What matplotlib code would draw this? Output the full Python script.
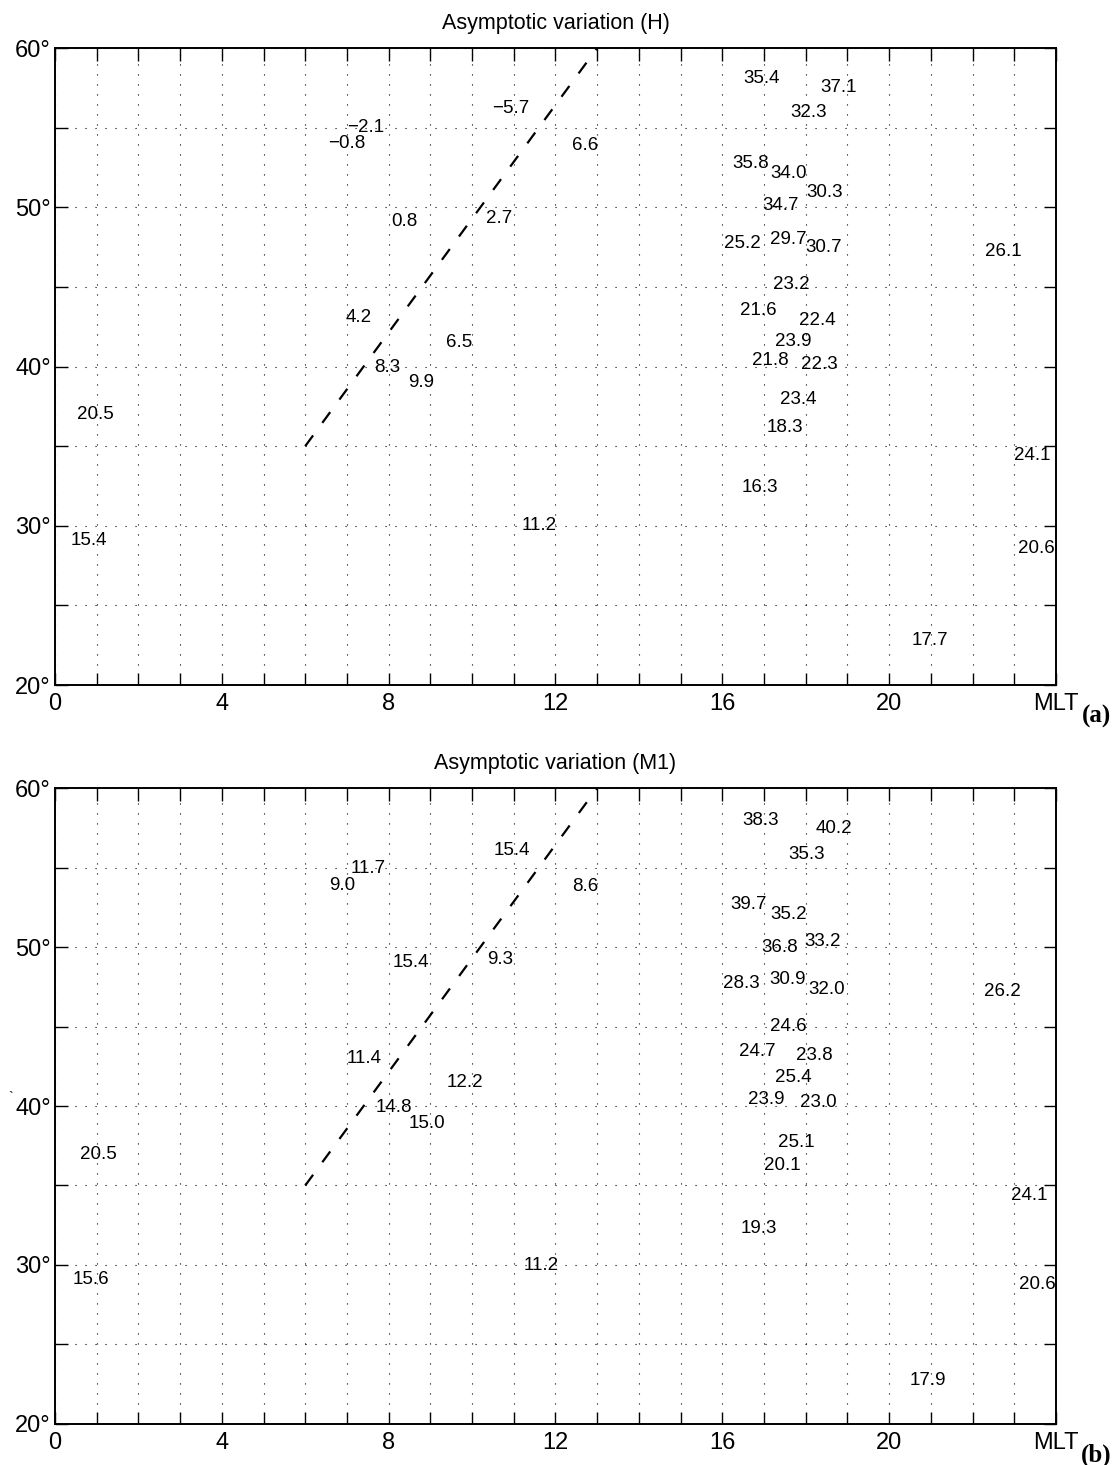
import numpy as np
import matplotlib
matplotlib.use("Agg")
import matplotlib.pyplot as plt

plt.rcParams['font.family'] = ['Liberation Sans', 'DejaVu Sans']

# panel (a): asymptotic variation H, positions in MLT (h) / latitude (deg)
mlt_a = [7.46, 6.99, 10.93, 12.72, 8.38, 10.65, 7.27, 9.70, 7.97, 8.77,
         0.97, 0.81, 11.61,
         16.93, 18.78, 18.06, 16.67, 17.60, 18.44, 17.39, 16.48, 17.58, 18.43,
         22.73, 17.65, 16.86, 18.27, 17.70, 17.14, 18.33, 17.82, 17.50, 23.42,
         16.91, 23.54, 20.98]
lat_a = [55.0, 54.0, 56.2, 53.9, 49.1, 49.3, 43.1, 41.5, 39.95, 39.0,
         37.0, 29.1, 30.0,
         58.1, 57.5, 55.95, 52.75, 52.15, 50.9, 50.1, 47.7, 48.0, 47.5,
         47.25, 45.15, 43.5, 42.9, 41.55, 40.4, 40.15, 37.95, 36.2, 34.4,
         32.4, 28.6, 22.8]
val_a = [-2.1, -0.8, -5.7, 6.6, 0.8, 2.7, 4.2, 6.5, 8.3, 9.9,
         20.5, 15.4, 11.2,
         35.4, 37.1, 32.3, 35.8, 34.0, 30.3, 34.7, 25.2, 29.7, 30.7,
         26.1, 23.2, 21.6, 22.4, 23.9, 21.8, 22.3, 23.4, 18.3, 24.1,
         16.3, 20.6, 17.7]

# panel (b): asymptotic variation M1
mlt_b = [7.50, 6.88, 10.95, 12.72, 8.53, 10.67, 7.41, 9.84, 8.13, 8.93,
         1.04, 0.87, 11.66,
         16.91, 18.67, 18.03, 16.64, 17.59, 18.41, 17.37, 16.45, 17.56, 18.51,
         22.71, 17.58, 16.83, 18.21, 17.71, 17.05, 18.30, 17.77, 17.43, 23.36,
         16.87, 23.55, 20.93]
lat_b = [54.95, 53.85, 56.05, 53.8, 49.05, 49.2, 43.0, 41.5, 39.9, 38.9,
         36.95, 29.1, 29.95,
         57.95, 57.45, 55.85, 52.7, 52.05, 50.35, 50.0, 47.7, 47.95, 47.3,
         47.2, 45.0, 43.45, 43.2, 41.8, 40.4, 40.2, 37.7, 36.25, 34.4,
         32.3, 28.75, 22.75]
val_b = [11.7, 9.0, 15.4, 8.6, 15.4, 9.3, 11.4, 12.2, 14.8, 15.0,
         20.5, 15.6, 11.2,
         38.3, 40.2, 35.3, 39.7, 35.2, 33.2, 36.8, 28.3, 30.9, 32.0,
         26.2, 24.6, 24.7, 23.8, 25.4, 23.9, 23.0, 25.1, 20.1, 24.1,
         19.3, 20.6, 17.9]

# dashed boundary
line_mlt = [6, 13]
line_lat = [35, 60]

x_ticks = list(range(0, 25))
x_labels = ['0', '', '', '', '4', '', '', '', '8', '', '', '', '12', '', '', '',
            '16', '', '', '', '20', '', '', '', 'MLT']
y_ticks = list(range(20, 61, 5))
y_labels = ['20°', '', '30°', '', '40°', '', '50°', '', '60°']


def fmt(v):
    s = '%.1f' % v
    return s.replace('-', '\u2212')


def draw_panel(ax, mlt, lat, vals, title, tag):
    ax.plot(line_mlt, line_lat, color='black', linestyle=(0, (6, 7)),
            linewidth=1.6, clip_on=True)
    for x, y, v in zip(mlt, lat, vals):
        ax.text(x, y, fmt(v), ha='center', va='center', fontsize=13.5)
    ax.set_xlim(0, 24)
    ax.set_ylim(20, 60)
    ax.set_xticks(x_ticks)
    ax.set_xticklabels(x_labels, fontsize=17)
    ax.set_yticks(y_ticks)
    ax.set_yticklabels(y_labels, fontsize=17)
    ax.tick_params(direction='in', top=True, right=True, length=9, width=1)
    ax.tick_params(axis='x', pad=6)
    ax.tick_params(axis='y', pad=3)
    ax.grid(True, color='black', linestyle=(0, (1, 8)), linewidth=0.8)
    for sp in ax.spines.values():
        sp.set_linewidth(1.4)
    ax.set_title(title, fontsize=15.5, pad=14)
    ax.text(1.04, -0.05, tag, transform=ax.transAxes, ha='center', va='center',
            fontsize=18, fontweight='bold', family='Liberation Serif')


fig = plt.figure(figsize=(11.17, 14.65), dpi=100)
ax1 = fig.add_axes([0.0492, 0.5324, 0.8962, 0.4348])
ax2 = fig.add_axes([0.0492, 0.0280, 0.8962, 0.4341])

draw_panel(ax1, mlt_a, lat_a, val_a, 'Asymptotic variation (H)', '(a)')
draw_panel(ax2, mlt_b, lat_b, val_b, 'Asymptotic variation (M1)', '(b)')

# small stray mark left of the lower panel
fig.text(0.0096, 0.2505, '`', fontsize=10, ha='center', va='center')

fig.savefig('out.png', dpi=100)
